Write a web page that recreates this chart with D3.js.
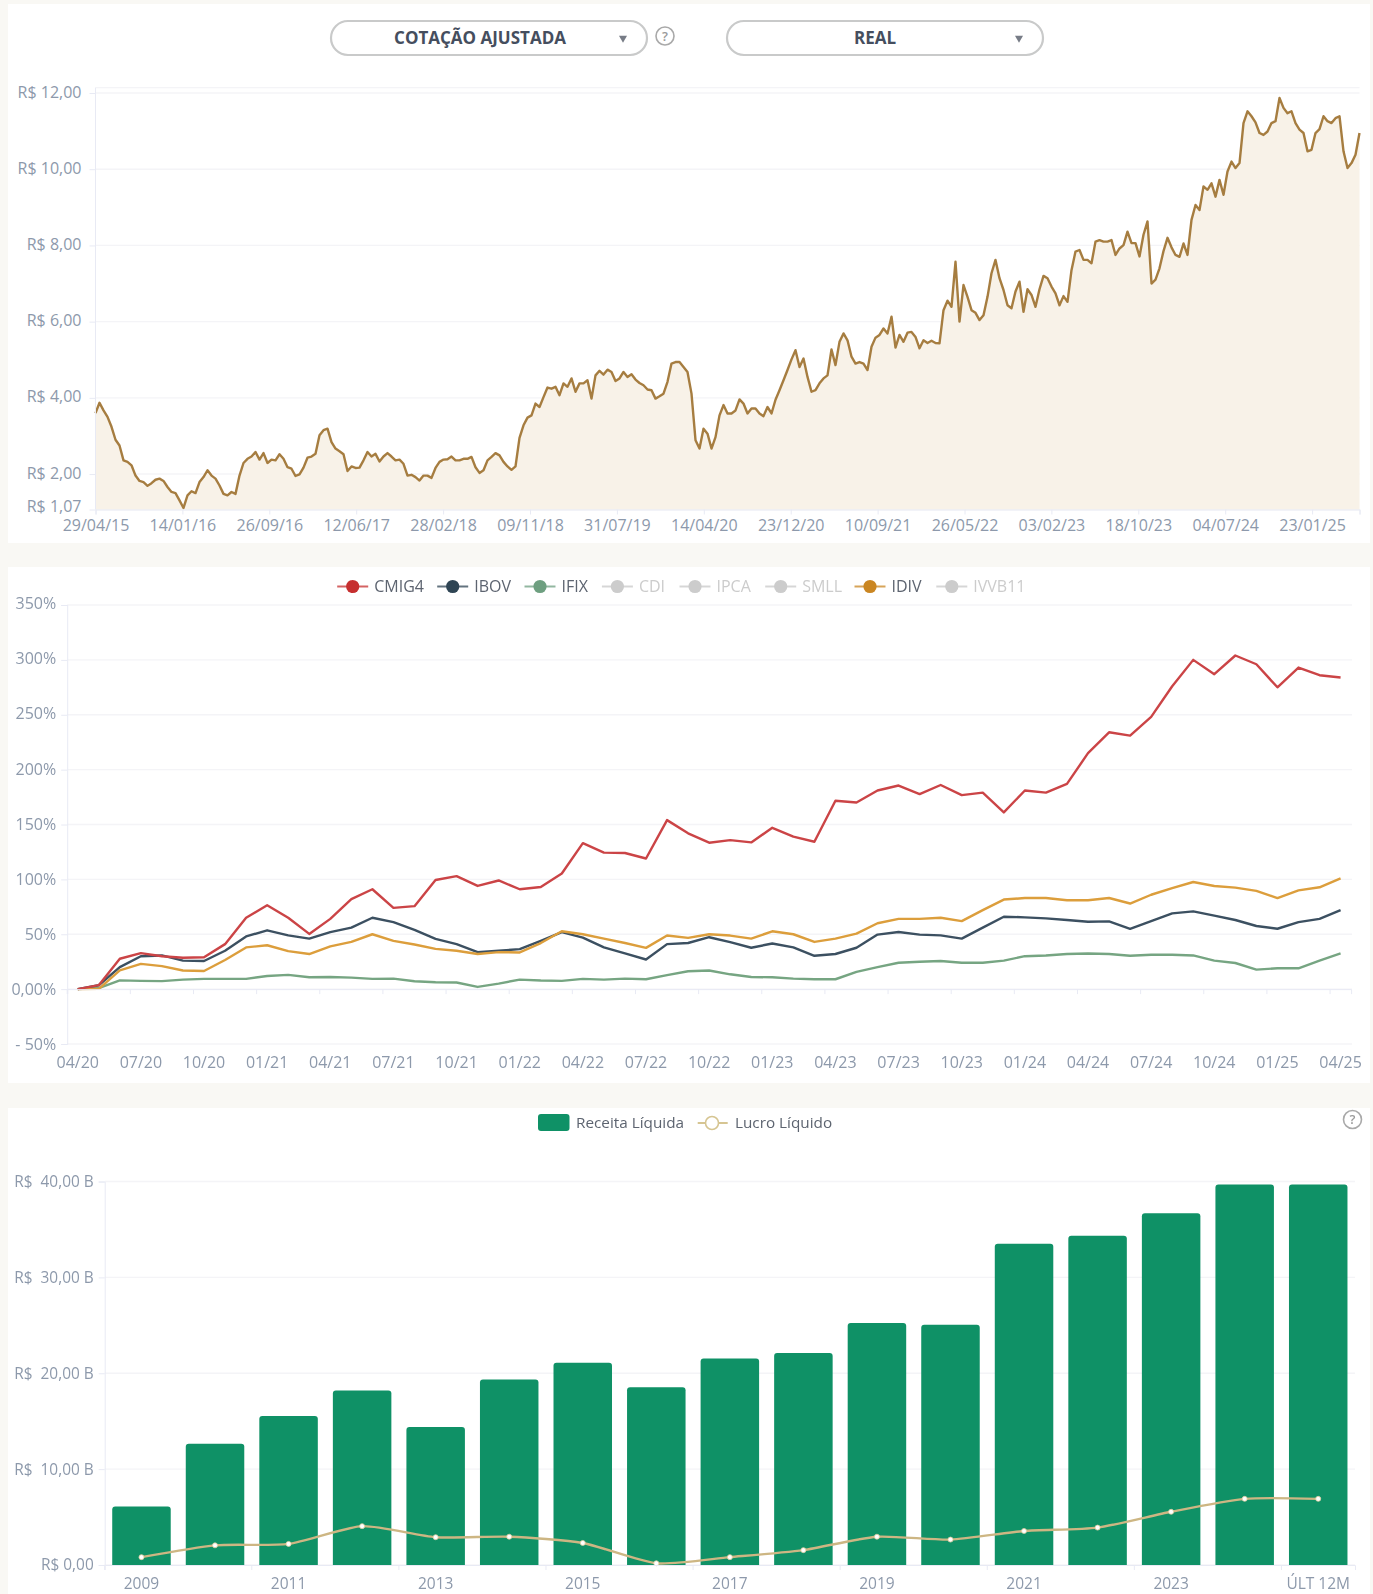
<!DOCTYPE html>
<html lang="pt-BR">
<head>
<meta charset="utf-8">
<title>CMIG4</title>
<script src="https://cdn.jsdelivr.net/npm/d3@7/dist/d3.min.js"></script>
<style>
html,body{margin:0;padding:0;background:#f9f8f4;}
svg{display:block;filter:blur(0.7px);}
text{font-family:"Open Sans",sans-serif;}
.tick text{fill:#8d99ab;font-size:16px;}
</style>
</head>
<body>
<svg id="c" width="1373" height="1594"></svg>
<script>
// ---------- Chart 1: adjusted quote ----------
const priceTickLabels = ["29/04/15","14/01/16","26/09/16","12/06/17","28/02/18","09/11/18","31/07/19","14/04/20","23/12/20","10/09/21","26/05/22","03/02/23","18/10/23","04/07/24","23/01/25"];
const priceYTicks = [1.07,2,4,6,8,10,12];
const priceValues = [
3.6,3.87,3.67,3.5,3.24,2.9,2.75,2.36,2.32,2.23,1.96,1.82,1.79,1.69,1.76,1.85,1.88,1.82,1.66,1.53,1.5,1.31,1.11,1.44,1.55,1.5,1.79,1.92,2.1,1.96,1.88,1.7,1.48,1.44,1.53,1.48,1.96,2.29,2.4,2.46,2.58,2.38,2.55,2.29,2.38,2.36,2.52,2.4,2.18,2.14,1.95,1.99,2.17,2.43,
2.46,2.53,3.02,3.15,3.19,2.84,2.67,2.6,2.52,2.08,2.2,2.16,2.17,2.36,2.58,2.46,2.53,2.33,2.46,2.55,2.46,2.36,2.38,2.27,1.96,1.98,1.92,1.83,1.96,1.96,1.9,2.16,2.32,2.38,2.39,2.46,2.36,2.36,2.4,2.4,2.45,2.18,2.03,2.1,2.36,2.45,2.55,2.49,2.32,2.2,2.11,2.2,
2.95,3.28,3.48,3.54,3.85,3.76,4.02,4.27,4.24,4.29,4.07,4.38,4.29,4.51,4.16,4.38,4.38,4.46,3.98,4.59,4.71,4.61,4.74,4.68,4.44,4.51,4.68,4.55,4.62,4.48,4.39,4.33,4.22,4.2,3.98,4.04,4.11,4.42,4.9,4.94,4.94,4.81,4.68,4.11,2.89,2.67,3.19,3.06,2.67,2.97,3.54,3.81,3.59,
3.59,3.67,3.96,3.85,3.59,3.72,3.72,3.59,3.52,3.76,3.59,3.95,4.2,4.46,4.73,5.01,5.25,4.81,5.03,4.55,4.16,4.2,4.38,4.51,4.59,5.27,4.86,5.47,5.69,5.51,5.08,4.9,4.94,4.9,4.73,5.34,5.58,5.65,5.82,5.69,6.13,5.32,5.65,5.47,5.71,5.73,5.6,5.3,5.51,5.44,5.5,5.44,
5.43,6.3,6.55,6.39,7.57,6.0,6.96,6.65,6.3,6.23,6.04,6.17,6.65,7.27,7.62,7.14,6.83,6.43,6.35,6.79,7.05,6.26,6.85,6.7,6.39,6.85,7.2,7.14,6.92,6.74,6.43,6.67,6.52,7.35,7.84,7.88,7.62,7.62,7.53,8.1,8.14,8.1,8.1,8.14,7.75,7.92,8.01,8.36,8.06,8.06,7.71,8.28,8.63,
7.0,7.1,7.4,7.85,8.2,7.95,7.75,7.7,8.05,7.75,8.67,9.06,8.93,9.55,9.46,9.63,9.28,9.72,9.33,9.94,10.2,10.03,10.16,11.21,11.52,11.39,11.23,10.95,10.9,10.99,11.21,11.26,11.87,11.61,11.47,11.52,11.21,11.04,10.95,10.47,10.51,10.95,11.05,11.39,11.26,11.21,11.34,11.39,10.47,10.03,10.16,10.38,10.95];
const samplesPerPriceTick = 21.725;

// ---------- Chart 2: cumulative return ----------
const returnMonths = ["04/20","05/20","06/20","07/20","08/20","09/20","10/20","11/20","12/20","01/21","02/21","03/21","04/21","05/21","06/21","07/21","08/21","09/21","10/21","11/21","12/21","01/22","02/22","03/22","04/22","05/22","06/22","07/22","08/22","09/22","10/22","11/22","12/22","01/23","02/23","03/23","04/23","05/23","06/23","07/23","08/23","09/23","10/23","11/23","12/23","01/24","02/24","03/24","04/24","05/24","06/24","07/24","08/24","09/24","10/24","11/24","12/24","01/25","02/25","03/25","04/25"];
const returnYTicks = [-50,0,50,100,150,200,250,300,350];
const cmig4 = [0,3.6,27.7,32.8,30,28.6,29,41,65,76.5,65,50.3,64,82,91,74,75.6,99.4,103,94,99,91,93,105.4,133,124.4,124,119,154,142,133.4,135.8,133.7,147,139,134.3,171.7,170,181,185.5,177.7,186,176.8,179,161,181,179,187,215,234,231,248,276,300,287,304,296,275,293,286,284];
const ibov = [0,3.5,20,30,30.7,26,25.6,35,48,53.6,49,46,52,56,65,61,54,45.8,41,33.7,35,36.4,44,52,47,38,32.5,27,41,42,47.3,42.8,37.7,41.6,38,30.4,32,37.7,49.7,52,49.7,49,46,56,66,65.4,64.5,63,61.4,61.7,55,62,69,70.8,67,63,57.5,55,61,64,72];
const ifix = [0,1,8,7.5,7.3,8.7,9.3,9.3,9.3,12,13,10.8,11,10.5,9.3,9.6,7.2,6.3,6,2,5,8.7,7.8,7.5,9.3,8.7,9.6,9,12.7,16.3,17,13.5,11,10.8,9.6,9,9,15.7,20,24,25,25.6,24,24,26,30,30.7,32,32.5,32,30.4,31.3,31.3,30.7,26,23.8,17.8,19,19,26,32.5];
const idiv = [0,0.3,17,23,21,17,16.5,26.5,38,40,34.6,32,39,43,50,44,40.7,36.7,35,32,33.7,33.4,42,52.7,50,46,42,37.6,48.8,46.7,50,48.8,46,52.7,50,43,46,50.6,60,64,64,65,62,72,81.6,83,83,81,81,83,78,86,92,97.6,94,92.5,89.5,83,90,92.8,101];
const returnLegendNames = ["CMIG4","IBOV","IFIX","CDI","IPCA","SMLL","IDIV","IVVB11"];

// ---------- Chart 3: revenue and profit ----------
const years = ["2009","2010","2011","2012","2013","2014","2015","2016","2017","2018","2019","2020","2021","2022","2023","2024","ÚLT 12M"];
const receita = [6.1,12.65,15.55,18.2,14.4,19.35,21.1,18.55,21.55,22.1,25.25,25.05,33.5,34.35,36.7,39.7,39.7];
const lucro = [0.82,2.05,2.2,4.05,2.9,2.95,2.3,0.18,0.82,1.55,2.95,2.65,3.55,3.9,5.55,6.9,6.9];
const financeYTicks = [0,10,20,30,40];

// ---------- Styling / layout (not data) ----------
const GRID="#f4f4f7", AXIS="#e8eaf4", LABEL="#8d99ab";
const seriesColor={CMIG4:"#cb4446",IBOV:"#3c5061",IFIX:"#76a582",IDIV:"#dc9e3c"};
const legendColor={CMIG4:"#c62f2f",IBOV:"#2f4554",IFIX:"#6e9f80",CDI:"#ccc",IPCA:"#ccc",SMLL:"#ccc",IDIV:"#ca8622",IVVB11:"#ccc"};
const legendCenters=[352.7,452.7,540,617.4,695,780.7,870,951.8];
const br2=v=>v.toFixed(2).replace(".",",");

const svg=d3.select("#c");
[[8,4,1362,539],[8,567,1362,516],[8,1108,1362,486]].forEach(([x,y,w,h])=>
  svg.append("rect").attr("x",x).attr("y",y).attr("width",w).attr("height",h).attr("fill","#fff"));

function styleAxis(g,showDomain){
  g.selectAll(".tick line").attr("stroke",AXIS);
  g.select(".domain").attr("stroke",showDomain?AXIS:"none").attr("fill","none");
  g.selectAll(".tick text").attr("fill",LABEL);
}
function grid(yScale,ticks,x0,x1){
  svg.append("g").selectAll("line").data(ticks).join("line")
    .attr("x1",x0).attr("x2",x1).attr("y1",d=>yScale(d)).attr("y2",d=>yScale(d))
    .attr("stroke",GRID).attr("stroke-width",1.4);
}
function helpIcon(cx,cy){
  svg.append("circle").attr("cx",cx).attr("cy",cy).attr("r",9).attr("fill","#fff").attr("stroke","#a9a9a9").attr("stroke-width",1.6);
  svg.append("text").attr("x",cx).attr("y",cy+4.6).attr("text-anchor","middle").attr("font-size",13).attr("font-weight",600).attr("fill","#9a9a9a").text("?");
}
function dropdown(x,w,label,textCx,arrowCx){
  svg.append("rect").attr("x",x).attr("y",21).attr("width",w).attr("height",34).attr("rx",17)
    .attr("fill","#fff").attr("stroke","#c9caca").attr("stroke-width",2.2);
  svg.append("text").attr("x",textCx).attr("y",43.5).attr("text-anchor","middle").attr("font-size",17).attr("font-weight",700).attr("fill","#454e5e").text(label);
  svg.append("path").attr("d",d3.symbol(d3.symbolTriangle,28)()).attr("transform",`translate(${arrowCx},38) rotate(180)`).attr("fill","#777c86");
}

// ---- Chart 1 ----
dropdown(331,316,"COTAÇÃO AJUSTADA",480,623);
helpIcon(665,36);
dropdown(727,316,"REAL",875,1019);
const px=d3.scaleLinear().domain([0,priceValues.length-1]).range([95.5,1359.5]);
const py=d3.scaleLinear().domain([1.07,12]).range([509.5,93]);
const pyTop=py(12.14);
svg.append("line").attr("x1",95.5).attr("x2",1359.5).attr("y1",pyTop).attr("y2",pyTop).attr("stroke",GRID).attr("stroke-width",1.4);
grid(py,priceYTicks,95.5,1359.5);
svg.append("path").datum(priceValues).attr("fill","#f8f2e8")
  .attr("d",d3.area().x((d,i)=>px(i)).y0(py(1.07)).y1(d=>py(d)));
svg.append("path").datum(priceValues).attr("fill","none").attr("stroke","#a67d40").attr("stroke-width",2.4).attr("stroke-linejoin","round")
  .attr("d",d3.line().x((d,i)=>px(i)).y(d=>py(d)));
const pTickIdx=priceTickLabels.map((d,i)=>i*samplesPerPriceTick);
const gpx=svg.append("g").attr("transform",`translate(0,${py(1.07)})`)
  .call(d3.axisBottom(px).tickValues(pTickIdx.concat([priceValues.length-1])).tickSize(5).tickPadding(5)
    .tickFormat((d,i)=>priceTickLabels[i]||""));
styleAxis(gpx,true);
const gpy=svg.append("g").attr("transform","translate(95.5,0)")
  .call(d3.axisLeft(py).tickValues(priceYTicks).tickSize(6).tickPadding(8).tickFormat(d=>"R$ "+br2(d)));
styleAxis(gpy,false);
gpy.selectAll(".tick text").attr("y",d=>d===1.07?-3.5:-1);
svg.append("line").attr("x1",95.5).attr("x2",95.5).attr("y1",pyTop).attr("y2",py(1.07)).attr("stroke",AXIS);

// ---- Chart 2 ----
const rx=d3.scaleBand().domain(returnMonths).range([67.2,1351.1]);
const rc=m=>rx(m)+rx.bandwidth()/2;
const ry=d3.scaleLinear().domain([-50,350]).range([1044,605]);
grid(ry,returnYTicks,67.2,1352);
const seriesMap={CMIG4:cmig4,IFIX:ifix,IBOV:ibov,IDIV:idiv};
["IFIX","IBOV","IDIV","CMIG4"].forEach(k=>{
  svg.append("path").datum(seriesMap[k]).attr("fill","none").attr("stroke",seriesColor[k]).attr("stroke-width",2.4).attr("stroke-linejoin","round")
   .attr("d",d3.line().x((d,i)=>rc(returnMonths[i])).y(d=>ry(d)));
});
const quarterly=returnMonths.filter((d,i)=>i%3===0);
const grx=svg.append("g").attr("transform",`translate(0,${ry(0)})`)
  .call(d3.axisBottom(rx).tickValues(quarterly).tickSize(5).tickFormat(""));
grx.selectAll(".tick").attr("transform",d=>`translate(${rx(d)},0)`);
styleAxis(grx,true);
svg.append("g").attr("transform",`translate(0,${ry(-50)})`)
  .selectAll("text").data(quarterly).join("text")
  .attr("x",d=>rc(d)).attr("y",24).attr("text-anchor","middle").attr("font-size",16).attr("fill",LABEL).text(d=>d);
const gry=svg.append("g").attr("transform","translate(67.2,0)")
  .call(d3.axisLeft(ry).tickValues(returnYTicks).tickSize(6).tickPadding(5)
    .tickFormat(d=>d===0?"0,00%":d<0?"- "+Math.abs(d)+"%":d+"%"));
styleAxis(gry,true);
gry.selectAll(".tick text").attr("y",d=>-1.5+(350-d)/200);
returnLegendNames.forEach((n,i)=>{
  const cx=legendCenters[i], active=["CMIG4","IBOV","IFIX","IDIV"].includes(n), c=legendColor[n];
  svg.append("line").attr("x1",cx-15.5).attr("x2",cx+15.5).attr("y1",586.5).attr("y2",586.5).attr("stroke",c).attr("stroke-width",2).attr("opacity",active?.75:.8);
  svg.append("circle").attr("cx",cx).attr("cy",586.5).attr("r",6.6).attr("fill",c);
  svg.append("text").attr("x",cx+21.5).attr("y",591.5).attr("font-size",16).attr("fill",active?"#5d6470":"#ccc").text(n);
});

// ---- Chart 3 ----
const fx=d3.scaleBand().domain(years).range([104.7,1355]);
const fy=d3.scaleLinear().domain([0,40]).range([1565,1181.5]);
const barW=58.5;
grid(fy,financeYTicks,104.7,1355);
const fc=y=>fx(y)+fx.bandwidth()/2;
svg.append("g").selectAll("path").data(years).join("path").attr("fill","#0f9166")
  .attr("d",(y,i)=>{
    const l=fc(y)-barW/2, t=fy(receita[i]), b=fy(0), r=3;
    const p=d3.path();
    p.moveTo(l,b);p.lineTo(l,t+r);p.quadraticCurveTo(l,t,l+r,t);p.lineTo(l+barW-r,t);p.quadraticCurveTo(l+barW,t,l+barW,t+r);p.lineTo(l+barW,b);p.closePath();
    return p.toString();
  });
svg.append("path").datum(lucro).attr("fill","none").attr("stroke","#cdb683").attr("stroke-width",2.4)
  .attr("d",d3.line().curve(d3.curveCardinal.tension(0.35)).x((d,i)=>fc(years[i])).y(d=>fy(d)));
svg.append("g").selectAll("circle").data(lucro).join("circle")
  .attr("cx",(d,i)=>fc(years[i])).attr("cy",d=>fy(d)).attr("r",2.5).attr("fill","#fff").attr("stroke","#dccb9f").attr("stroke-width",.8);
const oddYears=years.filter((d,i)=>i%2===0);
const gfx=svg.append("g").attr("transform",`translate(0,${fy(0)})`)
  .call(d3.axisBottom(fx).tickValues(oddYears).tickSize(5).tickFormat(""));
gfx.selectAll(".tick").attr("transform",d=>`translate(${fx(d)},0)`);
styleAxis(gfx,true);
svg.append("g").selectAll("text").data(oddYears).join("text")
  .attr("x",d=>fc(d)).attr("y",1589).attr("text-anchor","middle").attr("font-size",15.5).attr("fill",LABEL).text(d=>d);
const gfy=svg.append("g").attr("transform","translate(104.7,0)")
  .call(d3.axisLeft(fy).tickValues(financeYTicks).tickSize(6).tickPadding(5)
    .tickFormat(d=>d===0?"R$ 0,00":"R$\u00a0\u00a0"+br2(d)+" B"));
styleAxis(gfy,true);
gfy.selectAll(".tick text").style("font-size","15.4px").attr("y",0);
svg.append("rect").attr("x",538).attr("y",1114).attr("width",31.5).attr("height",17).attr("rx",3).attr("fill","#0f9166");
svg.append("text").attr("x",576).attr("y",1128).attr("font-size",15.3).attr("fill","#5d6470").text("Receita Líquida");
svg.append("line").attr("x1",697.7).attr("x2",727.7).attr("y1",1123).attr("y2",1123).attr("stroke","#d6c592").attr("stroke-width",2);
svg.append("circle").attr("cx",712).attr("cy",1123).attr("r",6.5).attr("fill","#fff").attr("stroke","#d6c592").attr("stroke-width",1.6);
svg.append("text").attr("x",735).attr("y",1128).attr("font-size",15.3).attr("fill","#5d6470").text("Lucro Líquido");
helpIcon(1352.5,1119.5);
</script>
</body>
</html>
